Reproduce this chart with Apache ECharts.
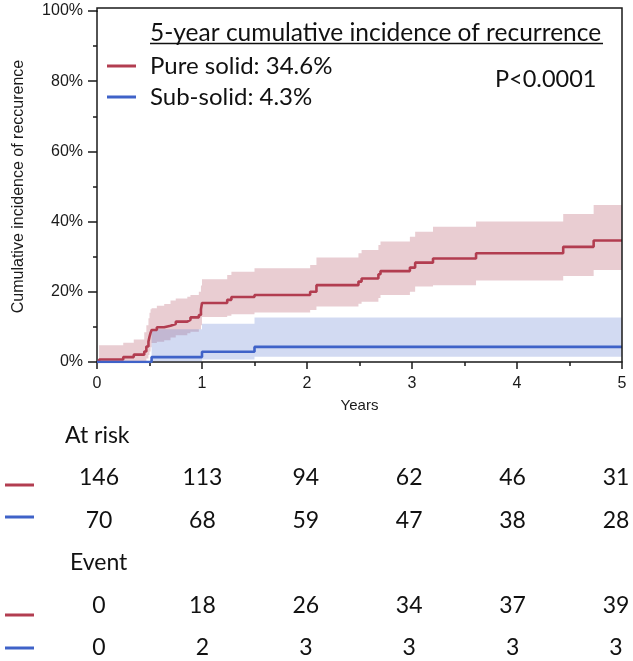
<!DOCTYPE html>
<html>
<head>
<meta charset="utf-8">
<script src="https://cdn.jsdelivr.net/npm/echarts@6/dist/echarts.min.js"></script>
<style>
html,body{margin:0;padding:0;background:#fff;}
#chart{width:633px;height:661px;}
</style>
</head>
<body>
<div id="chart"></div>
<script>
// ---- Data ----
const redTimes = [0, 0.02, 0.25, 0.35, 0.45, 0.47, 0.49, 0.50, 0.51, 0.52, 0.57, 0.64, 0.70, 0.75, 0.86, 0.89, 0.97, 0.99, 1.00, 1.24, 1.28, 1.50, 2.03, 2.09, 2.49, 2.52, 2.68, 2.70, 2.98, 3.03, 3.20, 3.61, 4.44, 4.73, 5.00];
const redEst   = [0, 0.7, 1.4, 2.1, 3.0, 4.4, 5.8, 7.2, 8.3, 9.1, 9.9, 10.3, 10.8, 11.5, 12.0, 12.7, 13.4, 15.0, 16.8, 17.7, 18.5, 19.1, 20.0, 21.9, 22.9, 23.8, 25.0, 25.9, 26.9, 28.3, 29.5, 31.0, 32.8, 34.6, 34.6];
const redLower = [0, 0, 0, 0, 0.3, 1.0, 2.0, 3.0, 4.2, 5.4, 5.8, 6.2, 7.0, 7.6, 8.2, 8.6, 9.3, 10.5, 12.8, 13.2, 13.6, 14.1, 14.8, 15.8, 16.6, 17.2, 18.2, 19.1, 20.0, 21.5, 21.9, 23.2, 24.5, 26.2, 26.2];
const redUpper = [0, 4.8, 5.5, 6.4, 8.5, 10.5, 12.5, 14.0, 15.0, 15.3, 16.0, 16.5, 17.5, 18.1, 18.6, 19.1, 20.0, 21.8, 23.6, 24.8, 25.7, 26.7, 27.6, 29.8, 31.0, 31.9, 33.3, 34.3, 35.7, 37.1, 38.5, 40.0, 42.2, 44.7, 44.7];

const blueTimes = [0, 0.52, 1.00, 1.50, 5.00];
const blueEst   = [0, 1.4, 2.9, 4.3, 4.3];
const blueLower = [0, 0.2, 0.7, 1.5, 1.5];
const blueUpper = [0, 9.3, 10.9, 12.7, 12.7];

const redName = 'Pure solid: 34.6%';
const blueName = 'Sub-solid: 4.3%';
const legendTitle = '5-year cumulative incidence of recurrence';
const pValueText = 'P<0.0001';
const xAxisTitle = 'Years';
const yAxisTitle = 'Cumulative incidence of reccurence';

const atRiskRed  = [146, 113, 94, 62, 46, 31];
const atRiskBlue = [70, 68, 59, 47, 38, 28];
const eventRed   = [0, 18, 26, 34, 37, 39];
const eventBlue  = [0, 2, 3, 3, 3, 3];
const tableHeaders = ['At risk', 'Event'];

// ---- Styles ----
const RED = '#b23d50';
const BLUE = '#3f62c8';
const RED_BAND = 'rgba(182,88,105,0.3)';
const BLUE_BAND = 'rgba(105,132,212,0.3)';
const AXIS = '#1a1a1a';
const TXT_FONT = 'Lato';
const AX_FONT = '"Liberation Sans", Arial, sans-serif';

const pairs = (xs, ys) => xs.map((x, i) => [x, ys[i]]);
const triples = (xs, lo, hi) => xs.map((x, i) => [x, lo[i], hi[i]]);

// Step-shaped confidence band drawn as one polygon through the axis scales
function bandRenderer(fill) {
  return function (params, api) {
    if (params.dataIndex !== 0) return null;
    const n = params.dataInsideLength;
    const rowsData = [];
    for (let i = 0; i < n; i++) {
      rowsData.push([api.value(0, i), api.value(1, i), api.value(2, i)]);
    }
    const pts = [];
    for (let i = 0; i < n - 1; i++) {
      pts.push(api.coord([rowsData[i][0], rowsData[i][2]]));
      pts.push(api.coord([rowsData[i + 1][0], rowsData[i][2]]));
    }
    for (let i = n - 2; i >= 0; i--) {
      pts.push(api.coord([rowsData[i + 1][0], rowsData[i][1]]));
      pts.push(api.coord([rowsData[i][0], rowsData[i][1]]));
    }
    return {type: 'polygon', shape: {points: pts}, style: {fill: fill, stroke: null}, silent: true};
  };
}

const chart = echarts.init(document.getElementById('chart'), null, {renderer: 'canvas'});

const option = {
  animation: false,
  backgroundColor: '#fff',
  grid: {left: 97, right: 11, top: 11, bottom: 299, containLabel: false},
  title: [
    {text: legendTitle, left: 150, top: 20, padding: 0,
     textStyle: {fontFamily: TXT_FONT, fontSize: 24.5, fontWeight: 'normal', color: '#111', lineHeight: 26}},
    {text: pValueText, left: 495, top: 66, padding: 0,
     textStyle: {fontFamily: TXT_FONT, fontSize: 23.5, fontWeight: 'normal', color: '#111', lineHeight: 26}}
  ],
  legend: {
    data: [redName, blueName],
    orient: 'vertical', left: 107, top: 53, padding: 0,
    itemWidth: 29, itemHeight: 3, itemGap: 5, icon: 'rect',
    selectedMode: false,
    textStyle: {fontFamily: TXT_FONT, fontSize: 24, color: '#111', lineHeight: 26, padding: [0, 0, 0, 9]}
  },
  xAxis: {
    type: 'value', min: 0, max: 5, interval: 1,
    name: xAxisTitle, nameLocation: 'middle', nameGap: 36,
    nameTextStyle: {fontFamily: AX_FONT, fontSize: 15, color: AXIS},
    axisLine: {show: true, onZero: false, lineStyle: {color: AXIS, width: 1.5}},
    axisTick: {show: true, length: 7, lineStyle: {color: AXIS, width: 1.5}},
    minorTick: {show: true, splitNumber: 2, length: 4, lineStyle: {color: AXIS, width: 1.5}},
    axisLabel: {margin: 14, fontFamily: AX_FONT, fontSize: 16, color: AXIS},
    splitLine: {show: false}
  },
  yAxis: {
    type: 'value', min: 0, max: 100, interval: 20,
    name: yAxisTitle, nameLocation: 'middle', nameGap: 70, nameRotate: 90,
    nameTextStyle: {fontFamily: AX_FONT, fontSize: 16, color: AXIS},
    axisLine: {show: true, onZero: false, lineStyle: {color: AXIS, width: 1.5}},
    axisTick: {show: true, length: 9, lineStyle: {color: AXIS, width: 1.5}},
    minorTick: {show: true, splitNumber: 2, length: 4, lineStyle: {color: AXIS, width: 1.5}},
    axisLabel: {margin: 14, fontFamily: AX_FONT, fontSize: 16, color: AXIS, formatter: v => v + '%'},
    splitLine: {show: false}
  },
  series: [
    {name: 'redBand', type: 'custom', renderItem: bandRenderer(RED_BAND), silent: true,
     data: triples(redTimes, redLower, redUpper), encode: {x: 0, y: [1, 2]}, clip: true, z: 1},
    {name: 'blueBand', type: 'custom', renderItem: bandRenderer(BLUE_BAND), silent: true,
     data: triples(blueTimes, blueLower, blueUpper), encode: {x: 0, y: [1, 2]}, clip: true, z: 2},
    {name: redName, type: 'line', step: 'end', symbol: 'none', data: pairs(redTimes, redEst),
     color: RED, lineStyle: {color: RED, width: 2.6}, z: 4},
    {name: blueName, type: 'line', step: 'end', symbol: 'none', data: pairs(blueTimes, blueEst),
     color: BLUE, lineStyle: {color: BLUE, width: 2.6}, z: 4}
  ]
};
chart.setOption(option);

// ---- Frame, underline and the at-risk table (layout decorations) ----
const p00 = chart.convertToPixel({gridIndex: 0}, [0, 0]);
const p11 = chart.convertToPixel({gridIndex: 0}, [5, 100]);
const frameTop = p11[1] - 3;
const graphics = [];
graphics.push({type: 'polyline', silent: true, z: 10,
  shape: {points: [[p00[0], p11[1] + 1], [p00[0], frameTop], [p11[0], frameTop], [p11[0], p00[1]]]},
  style: {stroke: AXIS, lineWidth: 1.5, fill: null}});
graphics.push({type: 'line', silent: true, z: 10,
  shape: {x1: 150, y1: 43.5, x2: 603, y2: 43.5}, style: {stroke: '#111', lineWidth: 1.5}});

const colX = i => 99 + 103.4 * i;
const rows = [
  {vals: atRiskRed, y: 478, color: RED, markY: 485},
  {vals: atRiskBlue, y: 521, color: BLUE, markY: 517},
  {vals: eventRed, y: 606, color: RED, markY: 615},
  {vals: eventBlue, y: 648, color: BLUE, markY: 648}
];
const tfont = '23px ' + TXT_FONT;
graphics.push({type: 'text', silent: true, style: {text: tableHeaders[0], x: 65, y: 436, font: tfont, fill: '#111', verticalAlign: 'middle', align: 'left'}});
graphics.push({type: 'text', silent: true, style: {text: tableHeaders[1], x: 70, y: 563, font: tfont, fill: '#111', verticalAlign: 'middle', align: 'left'}});
rows.forEach(r => {
  graphics.push({type: 'line', silent: true, shape: {x1: 5, y1: r.markY, x2: 34, y2: r.markY},
    style: {stroke: r.color, lineWidth: 3}});
  r.vals.forEach((v, i) => {
    graphics.push({type: 'text', silent: true, style: {text: String(v), x: colX(i), y: r.y, font: tfont,
      fill: '#111', align: 'center', verticalAlign: 'middle'}});
  });
});
chart.setOption({graphic: graphics});
</script>
</body>
</html>
